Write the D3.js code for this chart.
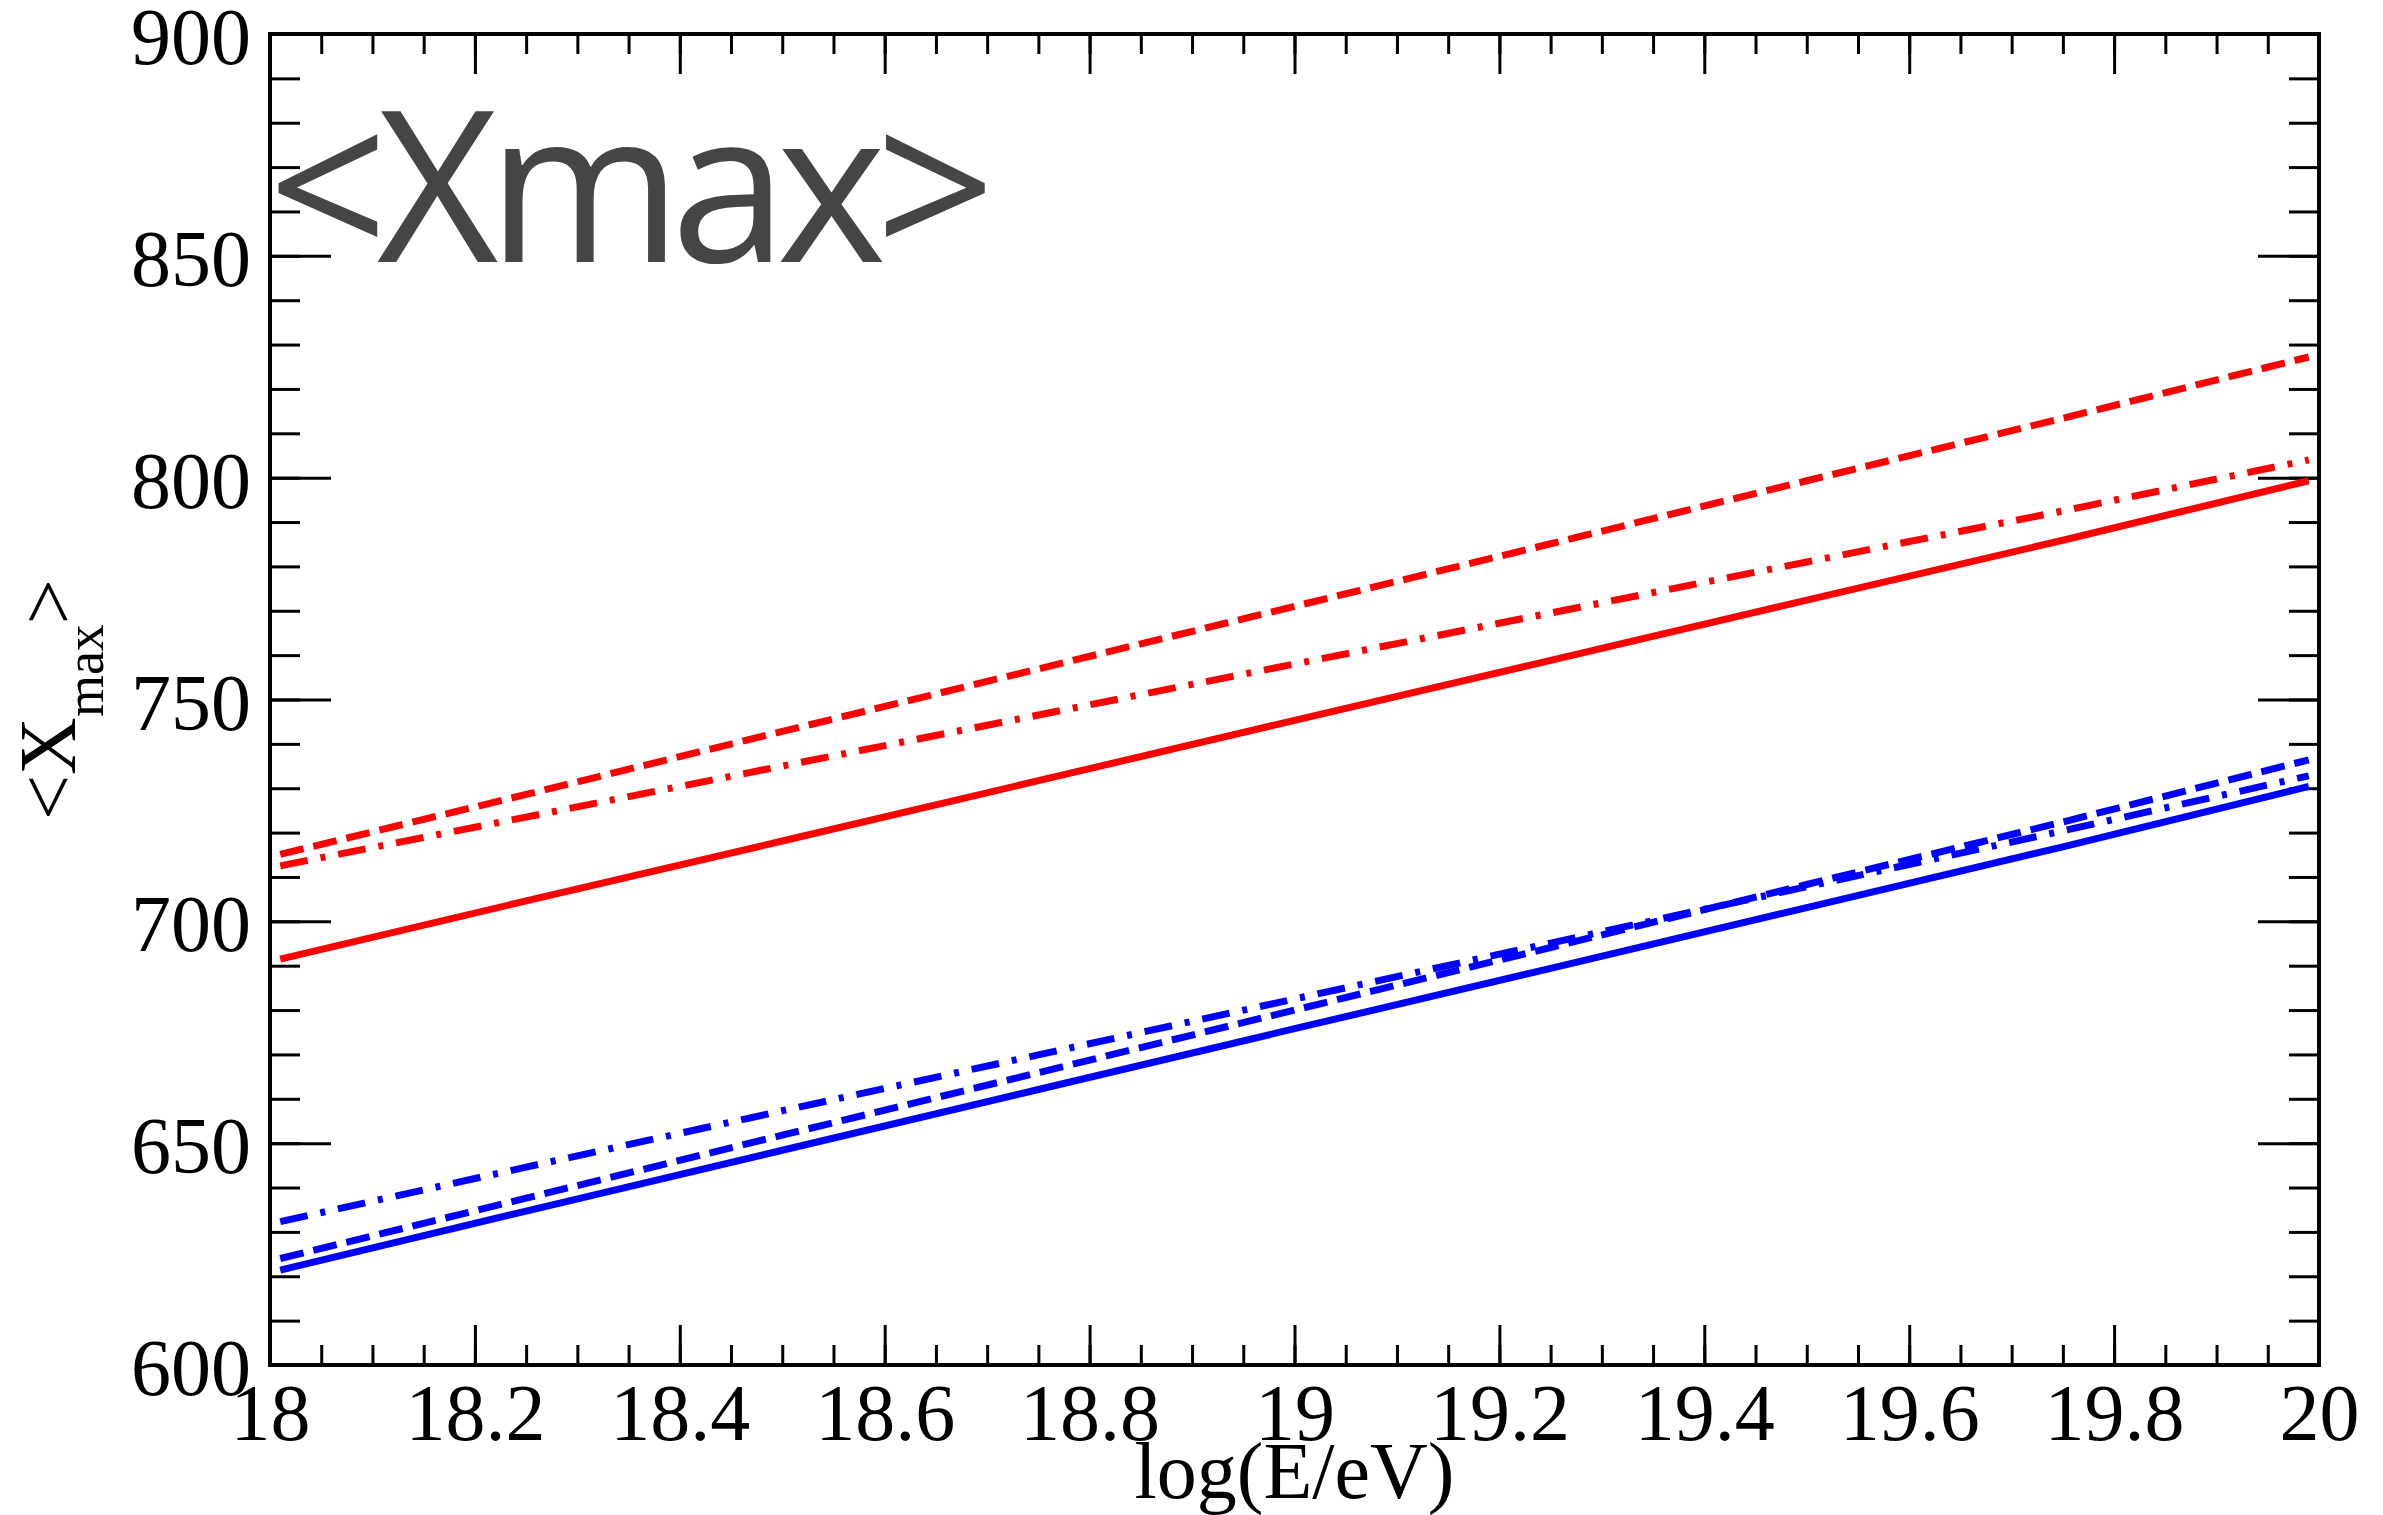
<!DOCTYPE html>
<html>
<head>
<meta charset="utf-8">
<script src="https://cdn.jsdelivr.net/npm/d3@7"></script>
<style>
body { margin: 0; background: #fff; }
.axis text { font-family: "Liberation Serif", "Times New Roman", serif; font-size: 80px; fill: #000; }
.axis path { display: none; }
.axis line { stroke: #000; stroke-width: 3; }
</style>
</head>
<body>
<svg></svg>
<script>
// x positions where the curves were read
const logE = [18.01, 18.25, 18.5, 18.75, 19, 19.25, 19.5, 19.75, 19.99]

// red curves
const redSolid   = [691.5, 704.6, 718.1, 731.7, 745.3, 758.8, 772.4, 785.9, 799.3]
const redDashed  = [715.1, 728.6, 742.8, 756.9, 771.0, 785.1, 799.3, 813.4, 827.2]
const redDashDot = [712.5, 723.5, 735.0, 746.5, 758.0, 769.5, 781.0, 792.5, 804.0]

// blue curves
const blueSolid   = [621.4, 634.7, 648.4, 662.1, 675.8, 689.4, 703.1, 716.8, 730.4]
const blueDashed  = [624.0, 637.6, 651.8, 665.9, 680.0, 694.1, 708.3, 722.4, 736.4]
const blueDashDot = [632.3, 644.6, 657.3, 669.9, 682.5, 695.1, 707.8, 720.4, 732.8]

// tick labels
const xTicks = [18, 18.2, 18.4, 18.6, 18.8, 19, 19.2, 19.4, 19.6, 19.8, 20]
const yTicks = [600, 650, 700, 750, 800, 850, 900]

const W = 2383, H = 1515
const mLeft = 270, mRight = 2319, mTop = 34, mBottom = 1365

const svg = d3.select("svg")
	.attr("width", W)
	.attr("height", H)

svg.append("rect").attr("width", W).attr("height", H).attr("fill", "#fff")

const x = d3.scaleLinear().domain([18, 20]).range([mLeft, mRight])
const y = d3.scaleLinear().domain([600, 900]).range([mBottom, mTop])

// minor ticks
const xMinor = d3.range(0, 41).map(i => 18 + i * 0.05)
const yMinor = d3.range(0, 31).map(i => 600 + i * 10)

// bottom axis
svg.append("g").attr("class", "axis")
	.attr("transform", `translate(0,${mBottom})`)
	.call(d3.axisBottom(x).tickValues(xMinor).tickSize(-20).tickFormat(""))
svg.append("g").attr("class", "axis")
	.attr("transform", `translate(0,${mBottom})`)
	.call(d3.axisBottom(x).tickValues(xTicks).tickSize(-40).tickPadding(18).tickFormat(d3.format("~g")))

// top axis
svg.append("g").attr("class", "axis")
	.attr("transform", `translate(0,${mTop})`)
	.call(d3.axisTop(x).tickValues(xMinor).tickSize(-20).tickFormat(""))
svg.append("g").attr("class", "axis")
	.attr("transform", `translate(0,${mTop})`)
	.call(d3.axisTop(x).tickValues(xTicks).tickSize(-40).tickFormat(""))

// left axis
svg.append("g").attr("class", "axis")
	.attr("transform", `translate(${mLeft},0)`)
	.call(d3.axisLeft(y).tickValues(yMinor).tickSize(-30).tickFormat(""))
const yAx = svg.append("g").attr("class", "axis")
	.attr("transform", `translate(${mLeft},0)`)
	.call(d3.axisLeft(y).tickValues(yTicks).tickSize(-61).tickPadding(19).tickFormat(d3.format("d")))
yAx.selectAll("text").attr("dy", "0.37em")

// right axis
svg.append("g").attr("class", "axis")
	.attr("transform", `translate(${mRight},0)`)
	.call(d3.axisRight(y).tickValues(yMinor).tickSize(-30).tickFormat(""))
svg.append("g").attr("class", "axis")
	.attr("transform", `translate(${mRight},0)`)
	.call(d3.axisRight(y).tickValues(yTicks).tickSize(-61).tickFormat(""))

// frame
svg.append("rect")
	.attr("x", mLeft).attr("y", mTop)
	.attr("width", mRight - mLeft).attr("height", mBottom - mTop)
	.attr("fill", "none").attr("stroke", "#000").attr("stroke-width", 4)

// curves
const line = d3.line()
	.x(d => x(d[0]))
	.y(d => y(d[1]))

const curves = [
	{vals: redDashed, color: "#ff0000", dash: "24,10"},
	{vals: redDashDot, color: "#ff0000", dash: "28,13,5,13"},
	{vals: redSolid, color: "#ff0000", dash: null},
	{vals: blueDashed, color: "#0000ff", dash: "24,10"},
	{vals: blueDashDot, color: "#0000ff", dash: "28,13,5,13"},
	{vals: blueSolid, color: "#0000ff", dash: null}
]

curves.forEach(c => {
	svg.append("path")
		.datum(logE.map((e, i) => [e, c.vals[i]]))
		.attr("d", line)
		.attr("fill", "none")
		.attr("stroke", c.color)
		.attr("stroke-width", 7)
		.attr("stroke-dasharray", c.dash)
})

// big label
svg.append("text")
	.attr("x", 268)
	.attr("y", 262)
	.attr("font-family", "Open Sans")
	.attr("font-size", 210)
	.attr("letter-spacing", -11)
	.attr("fill", "#454545")
	.text("<Xmax>")

// x title
svg.append("text")
	.attr("x", (mLeft + mRight) / 2)
	.attr("y", 1498)
	.attr("text-anchor", "middle")
	.attr("font-family", "Liberation Serif")
	.attr("font-size", 80)
	.text("log(E/eV)")

// y title
const yt = svg.append("text")
	.attr("transform", `translate(75,${(mTop + mBottom) / 2}) rotate(-90)`)
	.attr("text-anchor", "middle")
	.attr("font-family", "Liberation Serif")
	.attr("font-size", 80)
yt.append("tspan").text("<X")
yt.append("tspan").attr("font-size", 54).attr("dy", 28).text("max")
yt.append("tspan").attr("dy", -28).text(">")
</script>
</body>
</html>
